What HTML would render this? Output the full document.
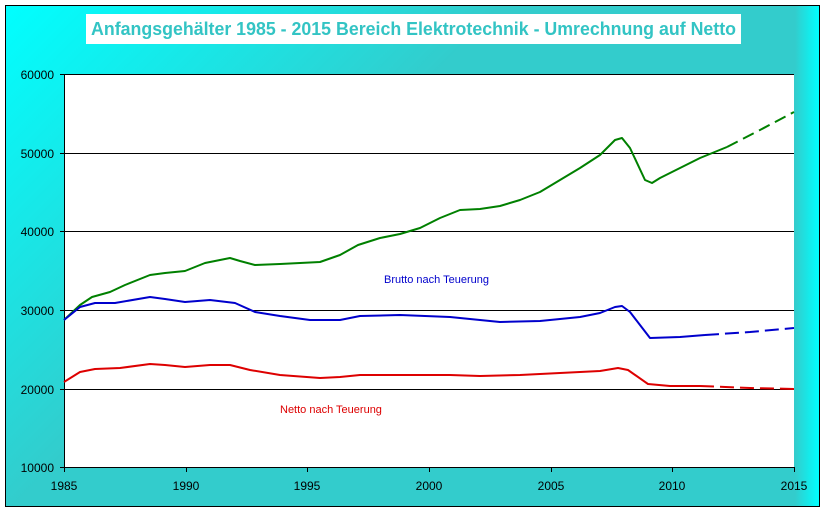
<!DOCTYPE html>
<html><head><style>
body{margin:0;width:826px;height:514px;overflow:hidden;background:#fff}
</style></head><body>
<svg width="826" height="514" xmlns="http://www.w3.org/2000/svg" font-family="Liberation Sans, Arial, sans-serif">
<defs>
<linearGradient id="bg" x1="0" y1="0" x2="1" y2="0.6">
<stop offset="0" stop-color="#00ffff"/><stop offset="0.45" stop-color="#33cccc"/><stop offset="1" stop-color="#33cccc"/>
</linearGradient>
<linearGradient id="bgr" x1="0" y1="0" x2="1" y2="0">
<stop offset="0" stop-color="#33cccc"/><stop offset="1" stop-color="#00ffff"/>
</linearGradient>
</defs>
<rect x="5.5" y="5.5" width="814" height="501" fill="url(#bg)" stroke="#000" stroke-width="1"/>
<rect x="795" y="6" width="24" height="500" fill="url(#bgr)"/>
<rect x="86" y="14" width="655" height="30" fill="#fff"/>
<text x="91" y="35" textLength="645" lengthAdjust="spacingAndGlyphs" font-size="18" font-weight="bold" fill="#33c4c4">Anfangsgehälter 1985 - 2015 Bereich Elektrotechnik - Umrechnung auf Netto</text>
<rect x="64" y="74" width="730" height="393" fill="#fff"/>
<g stroke="#000" stroke-width="1">
<line x1="64" y1="74.5" x2="794" y2="74.5"/>
<line x1="64" y1="153.5" x2="794" y2="153.5"/>
<line x1="64" y1="231.5" x2="794" y2="231.5"/>
<line x1="64" y1="310.5" x2="794" y2="310.5"/>
<line x1="64" y1="389.5" x2="794" y2="389.5"/>
<line x1="64" y1="467.5" x2="794" y2="467.5"/>
<line x1="64.5" y1="74" x2="64.5" y2="467"/>
<line x1="60" y1="74.5" x2="64" y2="74.5"/><line x1="60" y1="153.5" x2="64" y2="153.5"/><line x1="60" y1="231.5" x2="64" y2="231.5"/><line x1="60" y1="310.5" x2="64" y2="310.5"/><line x1="60" y1="389.5" x2="64" y2="389.5"/><line x1="60" y1="467.5" x2="64" y2="467.5"/>
<line x1="64.5" y1="467" x2="64.5" y2="472"/><line x1="186.5" y1="467" x2="186.5" y2="472"/><line x1="307.5" y1="467" x2="307.5" y2="472"/><line x1="429.5" y1="467" x2="429.5" y2="472"/><line x1="551.5" y1="467" x2="551.5" y2="472"/><line x1="672.5" y1="467" x2="672.5" y2="472"/><line x1="794.5" y1="467" x2="794.5" y2="472"/>
</g>
<g font-size="12" fill="#000" text-anchor="end">
<text x="54" y="79">60000</text><text x="54" y="158">50000</text><text x="54" y="236">40000</text><text x="54" y="315">30000</text><text x="54" y="394">20000</text><text x="54" y="472">10000</text>
</g>
<g font-size="12" fill="#000" text-anchor="middle">
<text x="64" y="490">1985</text><text x="186" y="490">1990</text><text x="307" y="490">1995</text><text x="429" y="490">2000</text><text x="551" y="490">2005</text><text x="672" y="490">2010</text><text x="794" y="490">2015</text>
</g>
<g fill="none" stroke-width="2" stroke-linejoin="round">
<polyline stroke="#008000" points="64,320 80,305 92,297 110,292 125,285 150,275 165,273 185,271 205,263 230,258 240,261 255,265 280,264 300,263 320,262 340,255 358,245 380,238 400,234 420,228 440,218 460,210 480,209 500,206 520,200 540,192 560,180 580,168 600,155 615,140 622,138 630,148 645,180 652,183 660,178 680,168 700,158 727,147"/>
<polyline stroke="#008000" stroke-dasharray="12,6" points="727,147 760,130 794,112"/>
<polyline stroke="#0000cc" points="64,320 80,307 95,303 115,303 150,297 165,299 185,302 210,300 235,303 255,312 280,316 310,320 340,320 360,316 400,315 450,317 480,320 500,322 540,321 580,317 600,313 615,307 622,306 630,312 640,325 650,338 680,337 705,335"/>
<polyline stroke="#0000cc" stroke-dasharray="14,6" points="705,335 750,332 794,328"/>
<polyline stroke="#dd0000" points="64,382 80,372 95,369 120,368 150,364 165,365 185,367 210,365 230,365 250,370 280,375 320,378 340,377 360,375 400,375 450,375 480,376 520,375 560,373 600,371 618,368 628,370 648,384 670,386 700,386"/>
<polyline stroke="#dd0000" stroke-dasharray="14,6" points="700,386 750,388 794,389"/>
</g>
<text x="384" y="283" font-size="11" fill="#0000cc">Brutto nach Teuerung</text>
<text x="280" y="413" font-size="11" fill="#dd0000">Netto nach Teuerung</text>
</svg>
</body></html>
